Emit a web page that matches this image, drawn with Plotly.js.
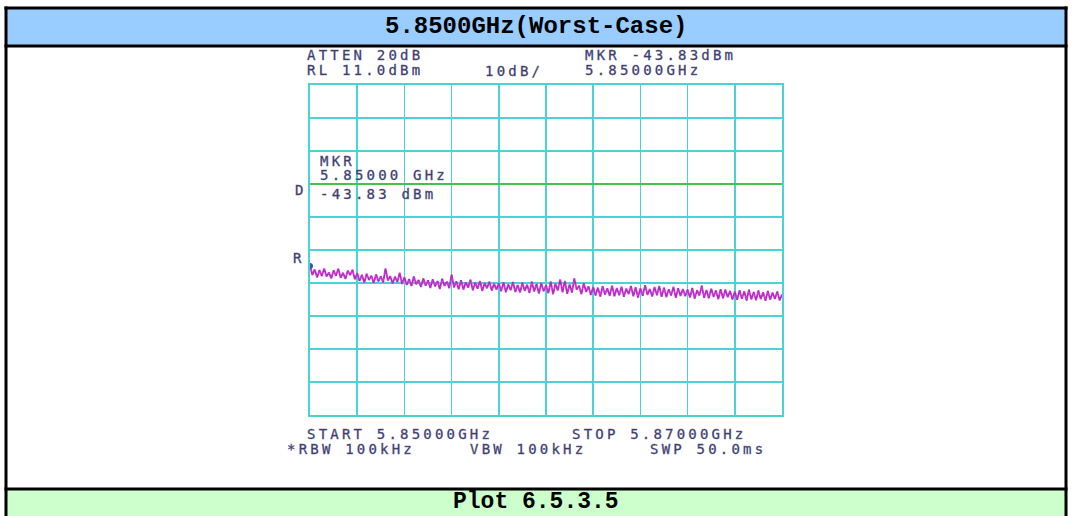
<!DOCTYPE html>
<html>
<head>
<meta charset="utf-8">
<script src="https://cdn.plot.ly/plotly-3.0.1.min.js"></script>
<style>
  html, body { margin: 0; padding: 0; background: #ffffff; }
  #chart { width: 1072px; height: 516px; }
  /* analyzer screen lettering: wide, evenly spaced dot-matrix look */
  text.annotation-text[style*="DejaVu Sans Mono"] {
    letter-spacing: 3.2px;
    stroke: #5a5a8c; stroke-width: 0.35px;
  }
</style>
</head>
<body>
<div id="chart"></div>
<script>
// Sweep settings
const startGHz = 5.85;
const stopGHz = 5.87;
const sweepStepGHz = 0.0001;
const refLevelDbm = 11;
const dbPerDiv = 10;
const displayLineDbm = -19;

// Marker readout
const markerFreqGHz = [5.85];
const markerLevelDbm = [-43.83];

// Measured trace (dBm), 201 sweep points from start to stop
const traceDbm = [
  -43.8, -46.6, -44.9, -47.3, -45.1, -46.9, -44.6, -47.0, -45.8, -47.6,
  -45.2, -46.8, -44.7, -47.4, -45.9, -47.8, -45.3, -46.6, -45.0, -47.9,
  -46.0, -48.4, -46.5, -48.9, -46.2, -48.1, -46.8, -49.0, -46.4, -48.5,
  -47.0, -48.8, -44.6, -48.3, -46.9, -49.2, -47.1, -48.7, -45.9, -49.3,
  -47.2, -49.6, -47.8, -49.9, -47.0, -49.4, -48.1, -50.2, -47.6, -49.8,
  -48.2, -50.5, -47.9, -50.0, -48.4, -50.8, -47.7, -49.9, -48.6, -50.6,
  -46.4, -50.3, -48.5, -50.9, -48.2, -51.0, -48.8, -50.4, -48.0, -51.2,
  -48.9, -50.7, -48.4, -51.4, -49.0, -50.6, -48.6, -51.3, -49.2, -51.0,
  -49.1, -51.5, -48.8, -51.8, -49.4, -51.2, -48.7, -51.7, -49.6, -51.9,
  -48.9, -51.4, -49.5, -52.0, -48.6, -51.6, -49.3, -52.2, -49.0, -51.5,
  -49.7, -52.1, -48.5, -52.4, -49.2, -51.3, -47.9, -51.8, -48.4, -52.3,
  -49.4, -51.9, -47.6, -51.0, -49.8, -52.4, -49.1, -51.7, -50.0, -52.6,
  -50.2, -52.8, -50.4, -53.1, -50.0, -52.5, -50.6, -52.9, -49.8, -53.0,
  -50.5, -52.7, -50.1, -53.2, -50.7, -52.4, -49.9, -53.0, -50.3, -53.4,
  -50.6, -52.9, -49.7, -52.6, -50.8, -53.1, -50.2, -52.7, -49.9, -53.2,
  -50.4, -53.3, -50.9, -52.8, -50.1, -53.5, -50.6, -52.9, -50.8, -53.0,
  -51.0, -53.4, -50.5, -53.7, -51.2, -52.8, -49.8, -53.5, -51.1, -53.6,
  -50.7, -53.2, -51.3, -53.9, -50.9, -53.6, -51.0, -53.3, -51.4, -54.0,
  -51.6, -54.1, -51.2, -53.8, -51.5, -54.3, -51.0, -54.0, -51.7, -54.2,
  -51.3, -53.9, -51.8, -54.4, -51.4, -54.1, -51.9, -53.8, -51.6, -54.3,
  -52.4
];

// Captions
const headerTitle = "5.8500GHz(Worst-Case)";
const footerTitle = "Plot 6.5.3.5";

// Screen annotations of the analyzer
const topLeftLines = ["ATTEN 20dB", "RL 11.0dBm"];
const scaleLabel = "10dB/";
const topRightLines = ["MKR -43.83dBm", "5.85000GHz"];
const markerBoxLines = ["MKR", "5.85000 GHz", "-43.83 dBm"];
const displayLineTag = "D";
const refTag = "R";
const bottomLines = ["START 5.85000GHz", "STOP 5.87000GHz", "*RBW 100kHz", "VBW 100kHz", "SWP 50.0ms"];

const W = 1072, H = 516;
const fx = p => p / W;
const fy = p => 1 - p / H;

const gridColor = '#4ad3d3';
const inkColor = '#36366a';
const screenFont = { family: 'DejaVu Sans Mono', size: 14, color: inkColor };

function screenText(text, xPx, yPx) {
  return {
    text: text, xref: 'paper', yref: 'paper', x: fx(xPx), y: fy(yPx),
    xanchor: 'left', yanchor: 'middle', showarrow: false, font: screenFont
  };
}

const traces = [
  {
    type: 'scatter', mode: 'lines', x0: startGHz, dx: sweepStepGHz, y: traceDbm,
    line: { color: '#d433d4', width: 1.9 }, hoverinfo: 'skip'
  },
  {
    type: 'scatter', mode: 'lines', x0: startGHz, dx: sweepStepGHz, y: traceDbm,
    line: { color: '#5a34a8', width: 1, dash: 'dot' }, opacity: 0.55, hoverinfo: 'skip'
  },
  {
    type: 'scatter', mode: 'markers', x: markerFreqGHz, y: markerLevelDbm,
    marker: { color: '#3a56b0', size: 6 }, hoverinfo: 'skip'
  }
];

const bottomDbm = refLevelDbm - 10 * dbPerDiv;

const layout = {
  width: W, height: H,
  margin: { l: 0, r: 0, t: 0, b: 0 },
  paper_bgcolor: '#ffffff', plot_bgcolor: '#ffffff',
  showlegend: false,
  xaxis: {
    domain: [fx(310), fx(782)], range: [startGHz, stopGHz],
    tick0: startGHz, dtick: (stopGHz - startGHz) / 10,
    showgrid: true, gridcolor: gridColor, gridwidth: 1.6,
    showline: true, linecolor: gridColor, linewidth: 2, mirror: true,
    zeroline: false, showticklabels: false, ticks: '', fixedrange: true
  },
  yaxis: {
    domain: [fy(415), fy(85)], range: [bottomDbm, refLevelDbm],
    tick0: refLevelDbm, dtick: dbPerDiv,
    showgrid: true, gridcolor: gridColor, gridwidth: 1.6,
    showline: true, linecolor: gridColor, linewidth: 2, mirror: true,
    zeroline: false, showticklabels: false, ticks: '', fixedrange: true
  },
  shapes: [
    // caption bands
    { type: 'rect', xref: 'paper', yref: 'paper', x0: fx(6), x1: fx(1066), y0: fy(46), y1: fy(8),
      fillcolor: '#99ccff', line: { width: 0 }, layer: 'below' },
    { type: 'rect', xref: 'paper', yref: 'paper', x0: fx(6), x1: fx(1066), y0: fy(516), y1: fy(489),
      fillcolor: '#ccffcc', line: { width: 0 }, layer: 'below' },
    // table rules
    { type: 'line', xref: 'paper', yref: 'paper', x0: fx(4.5), x1: fx(1067.5), y0: fy(8), y1: fy(8), line: { color: '#000', width: 3 } },
    { type: 'line', xref: 'paper', yref: 'paper', x0: fx(4.5), x1: fx(1067.5), y0: fy(46), y1: fy(46), line: { color: '#000', width: 3 } },
    { type: 'line', xref: 'paper', yref: 'paper', x0: fx(4.5), x1: fx(1067.5), y0: fy(489), y1: fy(489), line: { color: '#000', width: 3 } },
    { type: 'line', xref: 'paper', yref: 'paper', x0: fx(6), x1: fx(6), y0: fy(6.5), y1: fy(516), line: { color: '#000', width: 3 } },
    { type: 'line', xref: 'paper', yref: 'paper', x0: fx(1066), x1: fx(1066), y0: fy(6.5), y1: fy(516), line: { color: '#000', width: 3 } },
    // display line
    { type: 'line', xref: 'x', yref: 'y', x0: startGHz, x1: stopGHz, y0: displayLineDbm, y1: displayLineDbm,
      line: { color: '#46c24a', width: 2 } }
  ],
  annotations: [
    { text: headerTitle, xref: 'paper', yref: 'paper', x: 0.5, y: fy(27), xanchor: 'center', yanchor: 'middle',
      showarrow: false, font: { family: 'Liberation Mono', size: 24, color: '#000', weight: 'bold' } },
    { text: footerTitle, xref: 'paper', yref: 'paper', x: 0.5, y: fy(502), xanchor: 'center', yanchor: 'middle',
      showarrow: false, font: { family: 'Liberation Mono', size: 23, color: '#000', weight: 'bold' } },
    screenText(topLeftLines[0], 305, 55),
    screenText(topLeftLines[1], 305, 70),
    screenText(scaleLabel, 483, 71),
    screenText(topRightLines[0], 583, 55),
    screenText(topRightLines[1], 583, 70),
    screenText(markerBoxLines[0], 318, 161),
    screenText(markerBoxLines[1], 318, 175),
    screenText(markerBoxLines[2], 318, 194),
    screenText(displayLineTag, 293, 190),
    screenText(refTag, 291, 258),
    screenText(bottomLines[0], 305, 434),
    screenText(bottomLines[1], 570, 434),
    screenText(bottomLines[2], 285, 449),
    screenText(bottomLines[3], 468, 449),
    screenText(bottomLines[4], 648, 449)
  ]
};

Plotly.newPlot('chart', traces, layout, { staticPlot: true, displayModeBar: false });
</script>
</body>
</html>
